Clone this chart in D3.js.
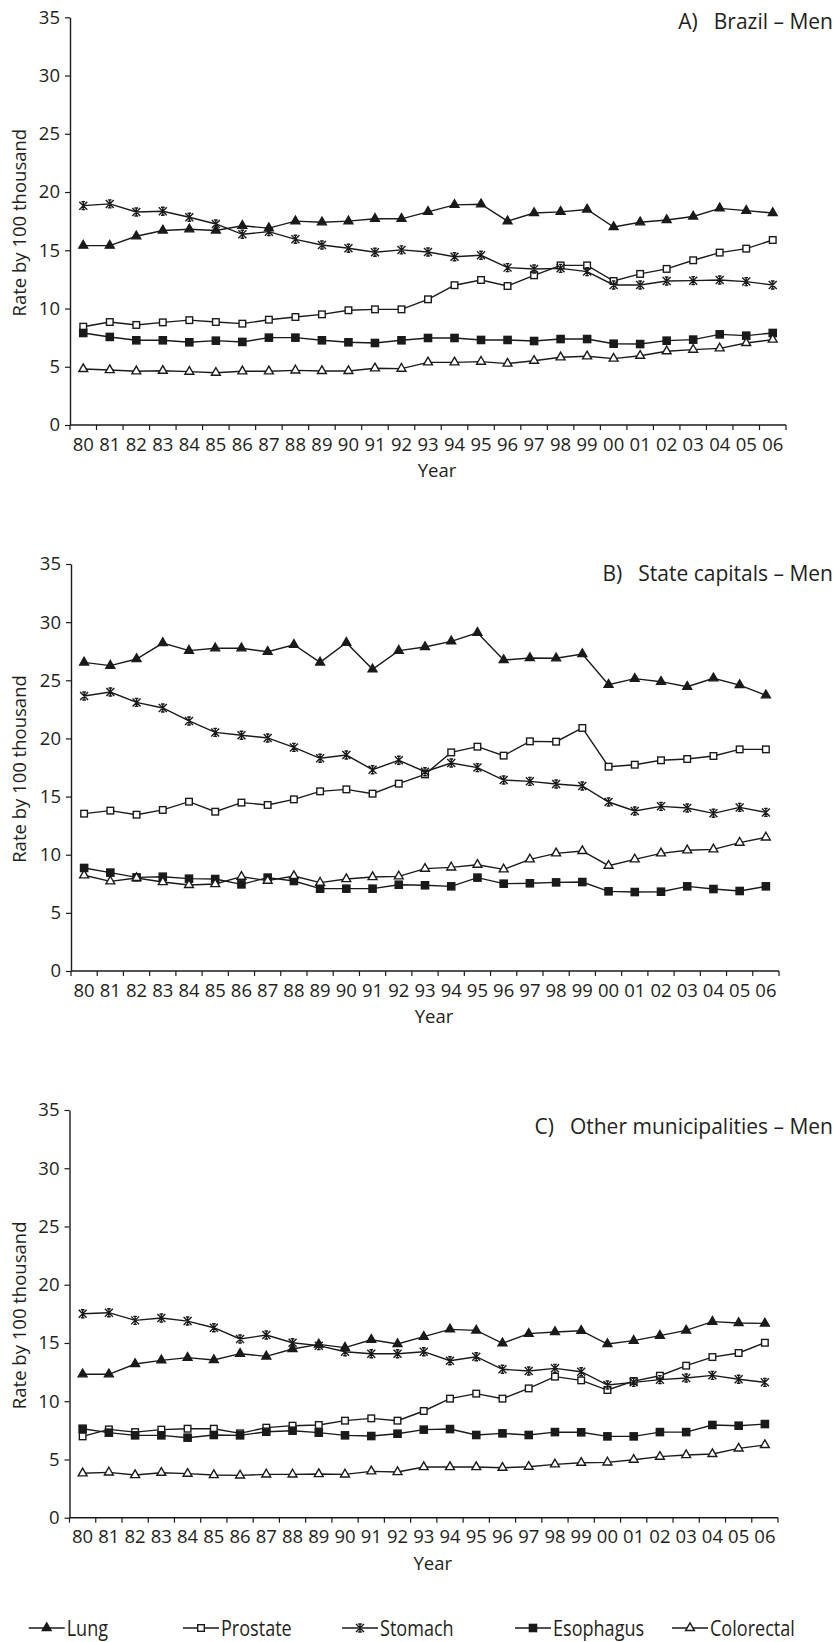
<!DOCTYPE html>
<html><head><meta charset="utf-8">
<script src="https://cdn.jsdelivr.net/npm/d3@7"></script>
<style>
body{margin:0;background:#fff}
svg{display:block}
text{font-family:"Open Sans",sans-serif;fill:#231f20}
</style>
</head><body>
<svg id="chart" width="837" height="1642"></svg>
<script>
// ---------- data ----------
const years = ["80","81","82","83","84","85","86","87","88","89","90","91","92","93","94","95","96","97","98","99","00","01","02","03","04","05","06"];
const yTicks = [0,5,10,15,20,25,30,35];
const seriesNames = ["Lung","Prostate","Stomach","Esophagus","Colorectal"];
const panelLetters = ["A)","B)","C)"];
const panelTitles = ["Brazil – Men","State capitals – Men","Other municipalities – Men"];
const yLabel = "Rate by 100 thousand";
const xLabel = "Year";

const lungA = [15.4,15.4,16.2,16.7,16.8,16.7,17.1,16.9,17.5,17.4,17.5,17.7,17.7,18.3,18.9,18.95,17.5,18.2,18.3,18.5,17.0,17.4,17.6,17.9,18.6,18.4,18.2];
const prostateA = [8.44,8.84,8.59,8.81,9.0,8.84,8.7,9.04,9.27,9.5,9.85,9.93,9.93,10.79,12.0,12.45,11.93,12.85,13.7,13.7,12.36,12.97,13.4,14.14,14.8,15.14,15.88];
const stomachA = [18.83,18.98,18.29,18.35,17.83,17.26,16.37,16.6,15.94,15.45,15.17,14.83,15.03,14.85,14.45,14.57,13.51,13.39,13.45,13.17,12.02,12.02,12.36,12.39,12.45,12.31,12.02];
const esophagusA = [7.9,7.56,7.27,7.27,7.1,7.24,7.13,7.5,7.5,7.27,7.1,7.04,7.27,7.47,7.47,7.3,7.3,7.21,7.38,7.38,6.98,6.95,7.24,7.33,7.78,7.67,7.9];
const colorectalA = [4.81,4.72,4.61,4.66,4.58,4.49,4.61,4.61,4.69,4.64,4.64,4.87,4.84,5.38,5.38,5.44,5.27,5.52,5.81,5.9,5.7,5.95,6.33,6.47,6.58,7.04,7.33];

const lungB = [26.54,26.26,26.83,28.2,27.55,27.75,27.75,27.46,28.06,26.54,28.23,25.94,27.55,27.86,28.35,29.09,26.74,26.92,26.89,27.26,24.62,25.14,24.88,24.45,25.17,24.59,23.71];
const prostateB = [13.53,13.79,13.44,13.85,14.56,13.7,14.48,14.28,14.76,15.45,15.62,15.25,16.11,16.91,18.8,19.29,18.52,19.75,19.72,20.9,17.57,17.74,18.12,18.23,18.49,19.06,19.06];
const stomachB = [23.65,23.99,23.1,22.62,21.5,20.52,20.27,20.04,19.23,18.29,18.57,17.31,18.12,17.14,17.89,17.49,16.42,16.31,16.08,15.91,14.53,13.76,14.16,14.02,13.56,14.07,13.64];
const esophagusB = [8.86,8.46,8.05,8.11,7.94,7.91,7.45,8.03,7.74,7.08,7.08,7.08,7.42,7.37,7.28,8.03,7.51,7.54,7.62,7.65,6.85,6.79,6.82,7.28,7.05,6.88,7.28];
const colorectalB = [8.23,7.71,8.0,7.65,7.4,7.48,8.11,7.77,8.17,7.6,7.91,8.08,8.14,8.8,8.91,9.14,8.74,9.6,10.12,10.32,9.06,9.6,10.12,10.38,10.46,11.04,11.49];

const lungC = [12.31,12.31,13.19,13.51,13.74,13.54,14.08,13.85,14.48,14.88,14.6,15.28,14.91,15.54,16.17,16.08,14.97,15.8,15.94,16.05,14.91,15.2,15.63,16.08,16.83,16.71,16.68];
const prostateC = [6.98,7.58,7.35,7.56,7.64,7.64,7.24,7.73,7.9,7.96,8.33,8.53,8.33,9.16,10.22,10.65,10.22,11.1,12.11,11.79,10.96,11.73,12.19,13.05,13.79,14.14,15.02];
const stomachC = [17.51,17.6,16.94,17.14,16.88,16.31,15.34,15.68,15.02,14.77,14.25,14.08,14.08,14.25,13.48,13.82,12.74,12.59,12.82,12.53,11.39,11.62,11.85,11.99,12.22,11.88,11.62];
const esophagusC = [7.64,7.3,7.07,7.07,6.87,7.1,7.07,7.38,7.47,7.3,7.07,7.01,7.21,7.56,7.61,7.1,7.24,7.1,7.35,7.33,6.98,6.98,7.35,7.35,7.96,7.9,8.04];
const colorectalC = [3.81,3.89,3.66,3.86,3.78,3.66,3.63,3.72,3.72,3.75,3.72,3.98,3.92,4.35,4.35,4.35,4.29,4.38,4.58,4.72,4.75,4.98,5.24,5.38,5.47,5.95,6.24];

const panelSeries = [
  [lungA, prostateA, stomachA, esophagusA, colorectalA],
  [lungB, prostateB, stomachB, esophagusB, colorectalB],
  [lungC, prostateC, stomachC, esophagusC, colorectalC]
];

// ---------- layout ----------
const layout = [
  {x0:70,   x1:786, yTop:17.3, yBot:425,   titleY:29},
  {x0:71,   x1:779, yTop:564,  yBot:971,   titleY:581},
  {x0:69.5, x1:778, yTop:1110, yBot:1517.7,titleY:1134}
];
const markerTypes = ["triFill","sqOpen","star","sqFill","triOpen"];
const FS = 18.5;
const TITLE_FS = 21;
const INK = "#1a1a1a";

const svg = d3.select("#chart");
svg.append("rect").attr("width",837).attr("height",1642).attr("fill","#fff");

function drawMarker(g, type, cx, cy) {
  if (type === "triFill" || type === "triOpen") {
    g.append("path").attr("d", d3.symbol(d3.symbolTriangle, 34)())
      .attr("transform", `translate(${cx},${cy})`)
      .attr("fill", type === "triFill" ? INK : "#fff")
      .attr("stroke", INK).attr("stroke-width", 1.4);
  } else if (type === "sqOpen" || type === "sqFill") {
    const s = type === "sqFill" ? 7.2 : 6.6;
    g.append("rect").attr("x", cx - s/2).attr("y", cy - s/2).attr("width", s).attr("height", s)
      .attr("fill", type === "sqFill" ? INK : "#fff")
      .attr("stroke", INK).attr("stroke-width", 1.4);
  } else {
    const r = 4;
    g.append("path")
      .attr("d", `M${cx},${cy-r}L${cx},${cy+r}M${cx-r},${cy-r}L${cx+r},${cy+r}M${cx-r},${cy+r}L${cx+r},${cy-r}M${cx-1.8},${cy-r}L${cx+1.8},${cy-r}M${cx-1.8},${cy+r}L${cx+1.8},${cy+r}`)
      .attr("fill","none").attr("stroke", INK).attr("stroke-width", 1.4);
  }
}

layout.forEach((L, pi) => {
  const g = svg.append("g");
  const x = d3.scaleBand().domain(years).range([L.x0, L.x1]).padding(0);
  const y = d3.scaleLinear().domain([0, 35]).range([L.yBot, L.yTop]);
  const cx = d => x(d) + x.bandwidth() / 2;

  // y axis
  const ya = g.append("g").attr("transform", `translate(${L.x0},0)`)
    .call(d3.axisLeft(y).tickValues(yTicks).tickSize(5).tickSizeOuter(0).tickPadding(5).tickFormat(d3.format("d")));
  ya.select(".domain").attr("stroke", INK).attr("stroke-width", 1.4);
  ya.selectAll(".tick line").attr("stroke", INK).attr("stroke-width", 1.2);
  ya.selectAll("text").style("font-size", FS + "px").style("font-family", '"Open Sans",sans-serif').attr("fill", "#231f20");

  // x axis (labels via axis, edge ticks from band scale)
  const xa = g.append("g").attr("transform", `translate(0,${L.yBot})`)
    .call(d3.axisBottom(x).tickSize(0).tickPadding(12.5));
  xa.select(".domain").remove();
  xa.selectAll("text").style("font-size", FS + "px").style("font-family", '"Open Sans",sans-serif').attr("fill", "#231f20");
  g.append("line").attr("x1", L.x0).attr("x2", L.x1).attr("y1", L.yBot).attr("y2", L.yBot)
    .attr("stroke", INK).attr("stroke-width", 1.4);
  const edges = years.map(d => x(d)).concat([L.x1]);
  g.selectAll(".etick").data(edges).join("line")
    .attr("x1", d => d).attr("x2", d => d).attr("y1", L.yBot).attr("y2", L.yBot + 5)
    .attr("stroke", INK).attr("stroke-width", 1.2);

  // labels
  g.append("text").attr("x", (L.x0 + L.x1) / 2 + 9).attr("y", L.yBot + 52)
    .attr("text-anchor", "middle").style("font-size", FS + "px").text(xLabel);
  g.append("text").attr("transform", `translate(26,${(L.yTop + L.yBot) / 2 + 1.5}) rotate(-90)`)
    .attr("text-anchor", "middle").style("font-size", FS + "px").text(yLabel);
  const t = g.append("text").attr("x", 833).attr("y", L.titleY).attr("text-anchor", "end").style("font-size", TITLE_FS + "px");
  t.append("tspan").text(panelLetters[pi]);
  t.append("tspan").attr("dx", 16).text(panelTitles[pi]);

  // series
  const line = d3.line().x((d, i) => cx(years[i])).y(d => y(d));
  panelSeries[pi].forEach((vals, si) => {
    g.append("path").datum(vals).attr("d", line).attr("fill", "none")
      .attr("stroke", INK).attr("stroke-width", 1.4);
    vals.forEach((v, i) => drawMarker(g, markerTypes[si], cx(years[i]), y(v)));
  });
});

// legend
const legendX = [46.7, 201, 360, 533, 690];
const legendY = 1628;
const lg = svg.append("g");
seriesNames.forEach((name, i) => {
  const mx = legendX[i];
  lg.append("line").attr("x1", mx - 18).attr("x2", mx + 18).attr("y1", legendY).attr("y2", legendY)
    .attr("stroke", INK).attr("stroke-width", 1.3);
  drawMarker(lg, markerTypes[i], mx, legendY);
  lg.append("text").attr("transform", `translate(${mx + 20},${legendY + 7.5}) scale(0.86,1)`)
    .style("font-size", "21px").text(name);
});
</script>
</body></html>
